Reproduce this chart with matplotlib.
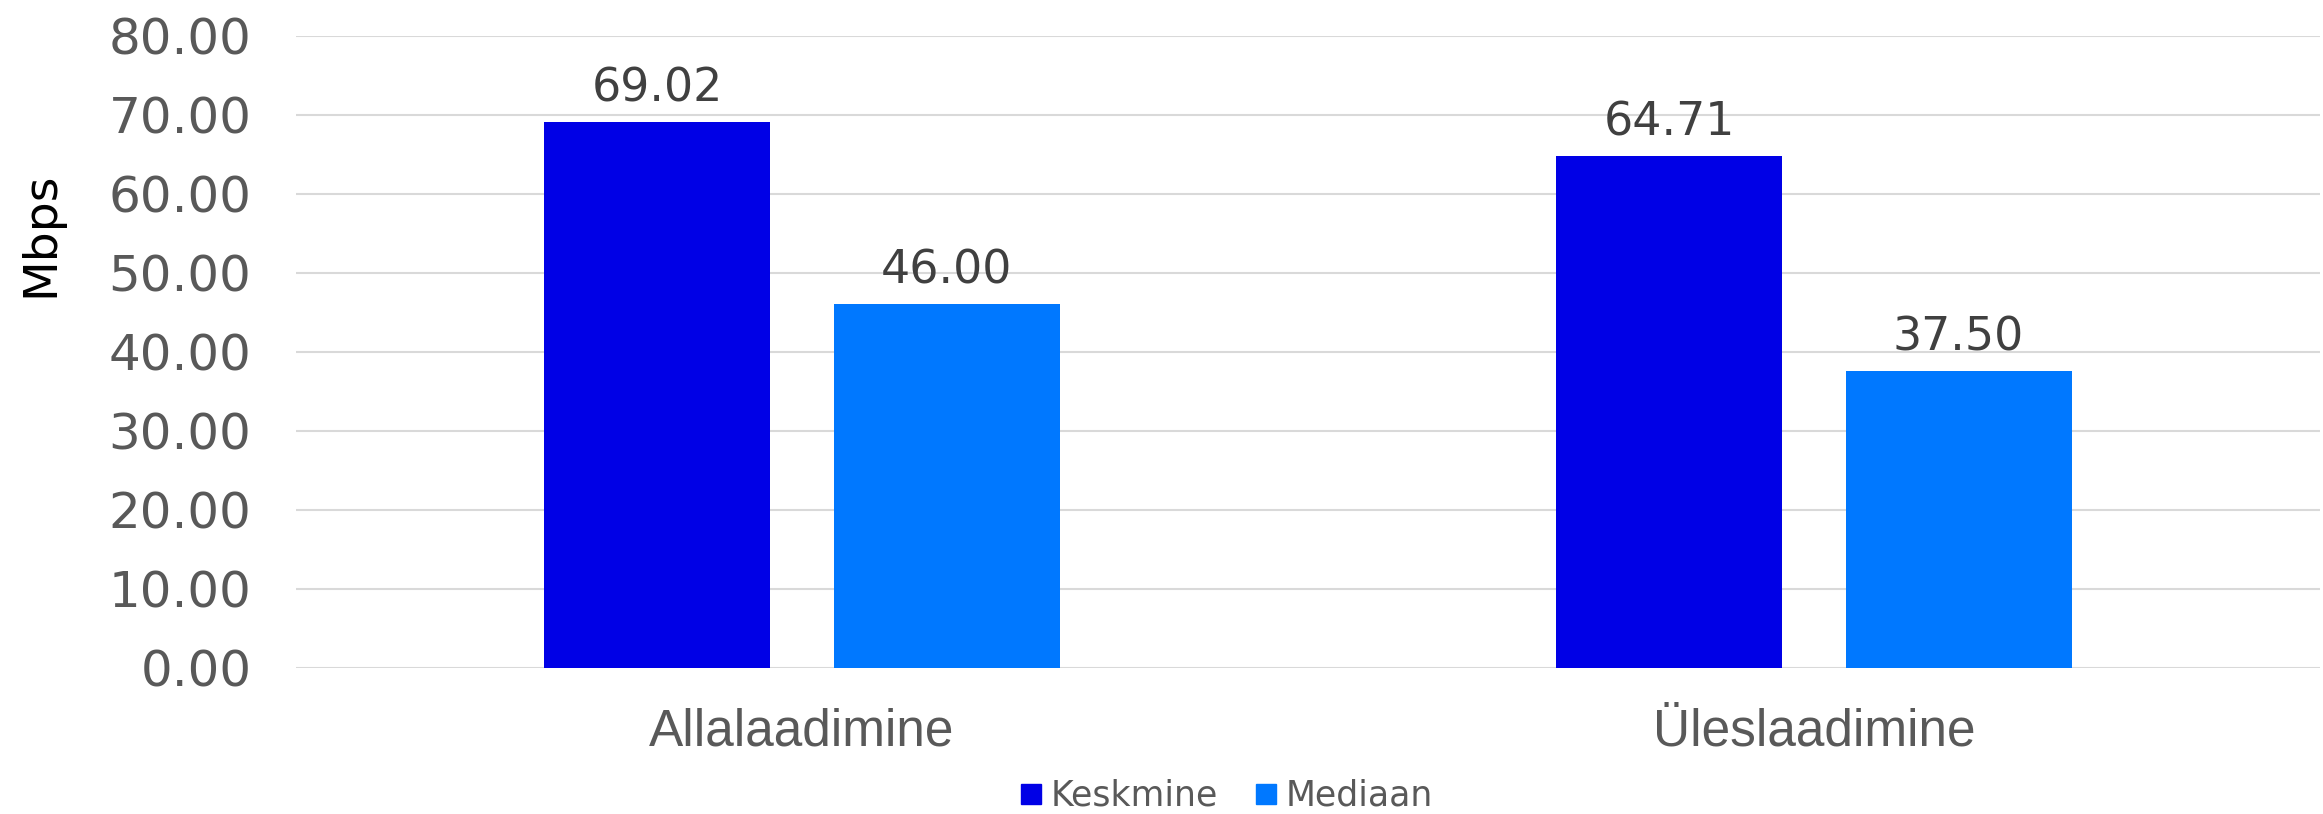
import matplotlib
matplotlib.use("Agg")
import matplotlib.pyplot as plt
from matplotlib.lines import Line2D
import numpy as np

categories = ["Allalaadimine", "Üleslaadimine"]
series_names = ["Keskmine", "Mediaan"]
keskmine = [69.02, 64.71]
mediaan = [46.00, 37.50]
y_ticks = [0, 10, 20, 30, 40, 50, 60, 70, 80]
y_label = "Mbps"

colors = ["#0000E6", "#0078FF"]
tick_color = "#595959"
label_color = "#404040"
grid_color = "#D9D9D9"

W, H = 2323, 814
fig = plt.figure(figsize=(W / 100, H / 100), dpi=100)
ax = fig.add_axes([296 / W, 1 - 667.5 / H, (2320 - 296) / W, (667.5 - 35.7) / H])

x = np.arange(len(categories))
bw = 0.2233
off = 0.1428
series = [keskmine, mediaan]
for i, (vals, c, name) in enumerate(zip(series, colors, series_names)):
    pos = x + (-off if i == 0 else off)
    bars = ax.bar(pos, vals, width=bw, color=c, zorder=3, label=name)
    for xi, v in zip(pos, vals):
        ax.annotate(f"{v:.2f}", xy=(xi, v), xytext=(0, 15), textcoords="offset points",
                    ha="center", va="baseline", fontsize=33, color=label_color,
                    family="DejaVu Sans")

ax.set_xlim(-0.5, len(categories) - 0.5)
ax.set_ylim(0, 80)
ax.set_yticks(y_ticks)
ax.set_yticklabels([f"{t:.2f}" for t in y_ticks], fontsize=36, color=tick_color,
                   family="DejaVu Sans")
ax.set_xticks(x)
ax.set_xticklabels(categories, fontsize=37, color=tick_color, family="Liberation Sans")
ax.tick_params(axis="y", length=0, pad=32)
ax.tick_params(axis="x", length=0, pad=29)
ax.grid(axis="y", color=grid_color, linewidth=1.5, zorder=0)
ax.set_axisbelow(True)
for s in ax.spines.values():
    s.set_visible(False)

fig.text(41 / W, 1 - 234 / H, y_label, rotation=90, ha="center", va="center",
         fontsize=34, color="black", family="DejaVu Sans")

handles = [Line2D([], [], marker="s", linestyle="none", markersize=13.7,
                  markerfacecolor=c, markeredgecolor=c) for c in colors]
leg = fig.legend(handles, series_names, loc="center", bbox_to_anchor=(1227 / W, 1 - 796 / H),
                 ncol=2, frameon=False, fontsize=25, handlelength=0.55,
                 handletextpad=0.3, columnspacing=1.1, borderpad=0, borderaxespad=0)
for t in leg.get_texts():
    t.set_color(tick_color)

fig.savefig("out.png", dpi=100, facecolor="white")
